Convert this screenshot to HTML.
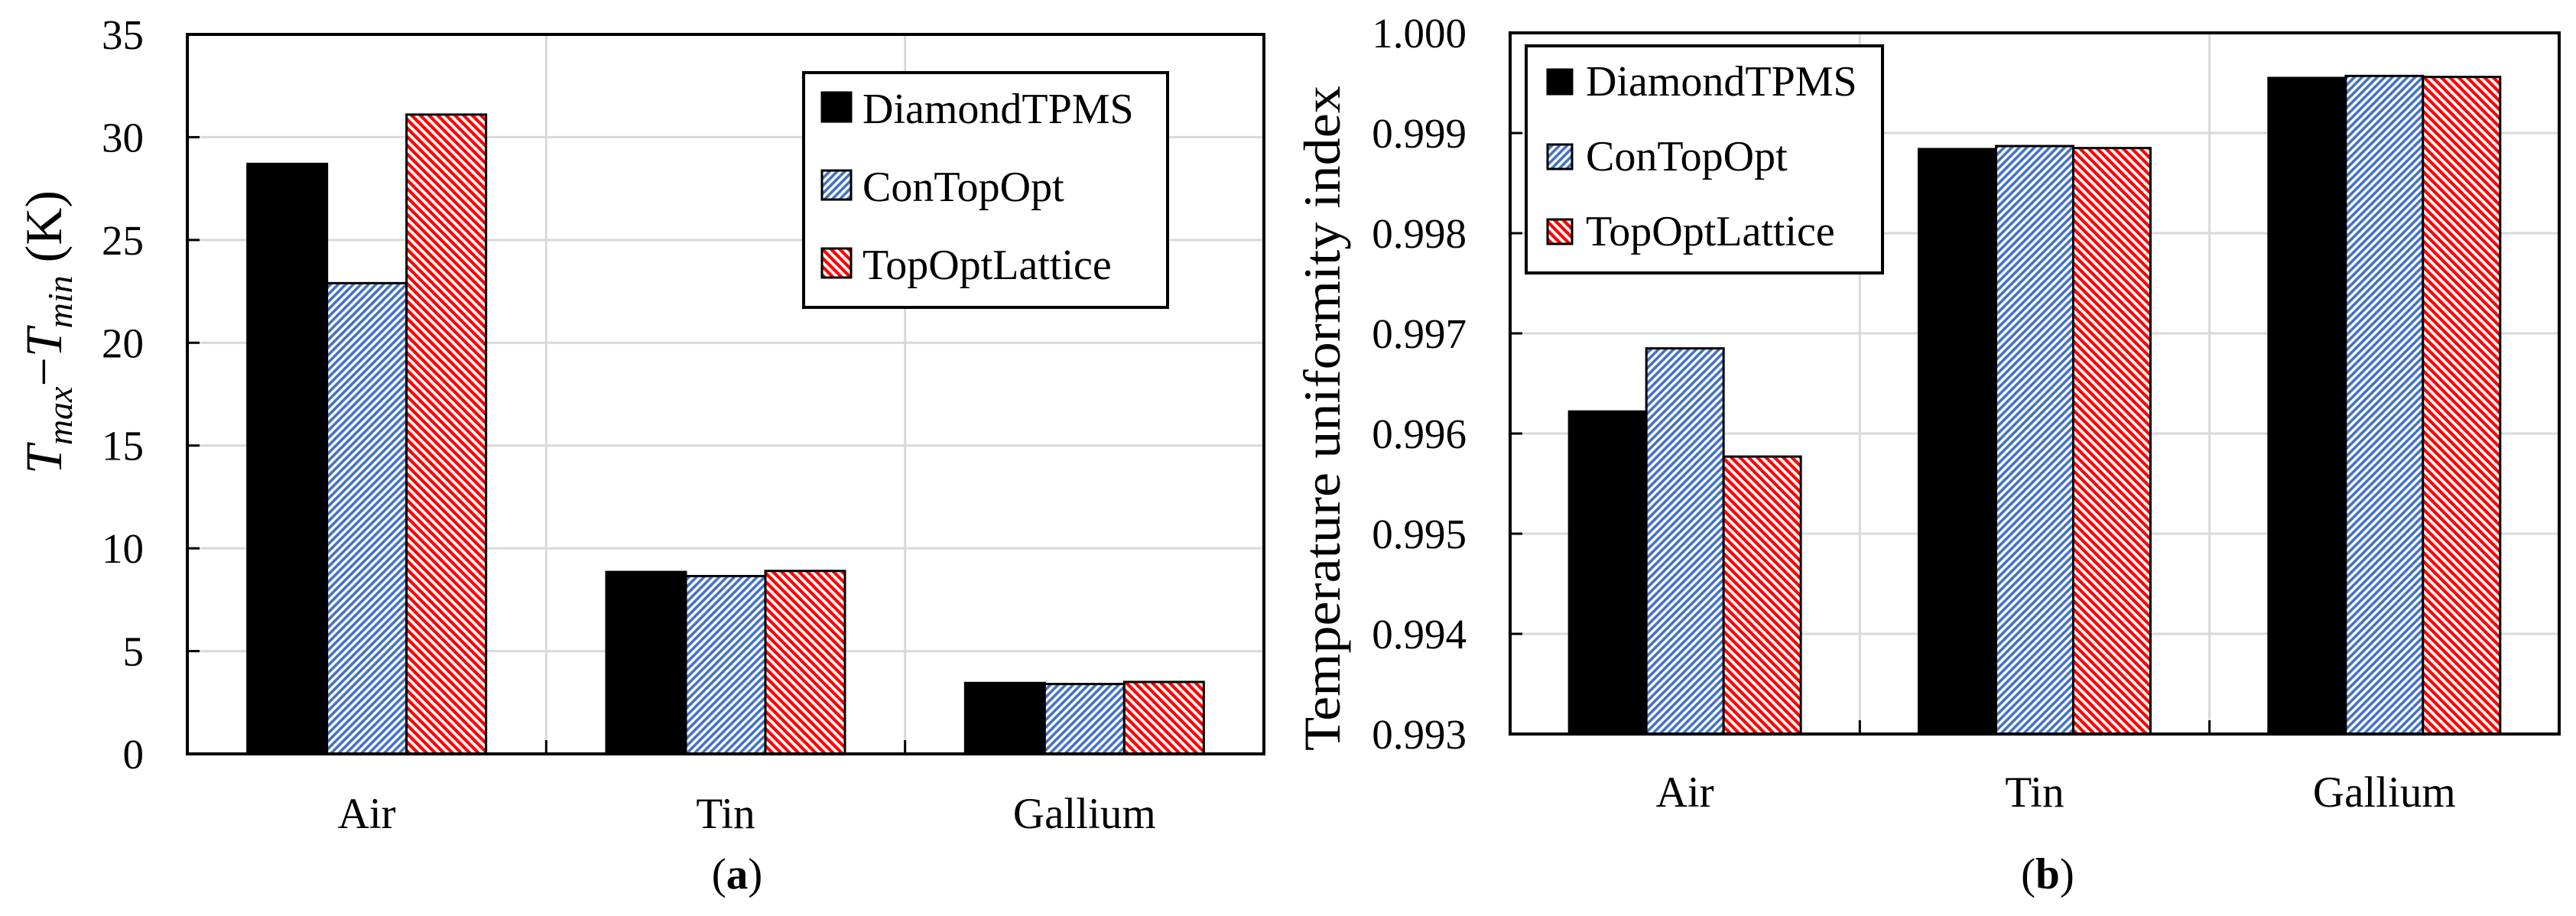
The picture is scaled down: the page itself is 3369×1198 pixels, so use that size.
<!DOCTYPE html>
<html><head><meta charset="utf-8"><title>Charts</title>
<style>
html,body{margin:0;padding:0;background:#fff;}
svg{display:block;}
svg text{font-family:"Liberation Serif","DejaVu Serif",serif;fill:#000;}
</style></head>
<body>
<svg id="fig" width="3369" height="1198" viewBox="0 0 3369 1198" xmlns="http://www.w3.org/2000/svg" font-family="Liberation Serif, serif">
<defs>
<pattern id="hatchBlue" patternUnits="userSpaceOnUse" width="7" height="7" patternTransform="rotate(45)">
<rect width="7" height="7" fill="#fff"/><rect width="3.6" height="7" fill="#4472c4"/>
</pattern>
<pattern id="hatchRed" patternUnits="userSpaceOnUse" width="8" height="8" patternTransform="rotate(-45)">
<rect width="8" height="8" fill="#fff"/><rect width="4.2" height="8" fill="#ff0000"/>
</pattern>
</defs>
<g id="panelA"></g>
<g id="panelB"></g>
<text x="964" y="1162" font-size="57" text-anchor="middle" font-family="Liberation Serif, serif">(<tspan font-weight="bold">a</tspan>)</text>
<text x="2678" y="1162" font-size="57" text-anchor="middle" font-family="Liberation Serif, serif">(<tspan font-weight="bold">b</tspan>)</text>
</svg>
<script>
const categories = ["Air", "Tin", "Gallium"];
const seriesNames = ["DiamondTPMS", "ConTopOpt", "TopOptLattice"];
const deltaTDiamond = [28.7, 8.85, 3.45];
const deltaTCon = [22.9, 8.65, 3.4];
const deltaTLattice = [31.1, 8.9, 3.5];
const ticksA = [0, 5, 10, 15, 20, 25, 30, 35];
const uniDiamond = [0.99622, 0.99884, 0.99955];
const uniCon = [0.99685, 0.99887, 0.99957];
const uniLattice = [0.99577, 0.99885, 0.99956];
const ticksB = [0.993, 0.994, 0.995, 0.996, 0.997, 0.998, 0.999, 1.000];

const NS = "http://www.w3.org/2000/svg";
const FONT = "Liberation Serif, serif";
const fills = ["#000", "url(#hatchBlue)", "url(#hatchRed)"];
function mk(parent, tag, attrs) {
  const e = document.createElementNS(NS, tag);
  for (const k in attrs) e.setAttribute(k, attrs[k]);
  if (tag === "text") e.setAttribute("font-family", FONT);
  parent.appendChild(e);
  return e;
}

function drawPanel(g, cfg) {
  const {L, R, T, B, min, max, ticks, fmt, series, barW, tickRight, catY, leg, title} = cfg;
  const y = v => B - (v - min) / (max - min) * (B - T);
  const catW = (R - L) / categories.length;
  const xc = i => L + catW * (i + 0.5);
  ticks.forEach(t => {
    if (t !== min && t !== max) {
      const gl = mk(g, "line", {x1: L, x2: R, y1: y(t), y2: y(t), stroke: "#d9d9d9", "stroke-width": 3});
      
      
    }
    const tk = mk(g, "line", {x1: L, x2: L + 16, y1: y(t), y2: y(t), stroke: "#000", "stroke-width": 3});
    
    
    const lb = mk(g, "text", {x: tickRight, y: y(t) + 19, "font-size": 55, "text-anchor": "end"});
    lb.textContent = fmt(t);
    
    
  });
  for (let i = 1; i < categories.length; i++) {
    const x = L + catW * i;
    const vg = mk(g, "line", {x1: x, x2: x, y1: T, y2: B, stroke: "#d9d9d9", "stroke-width": 3});
    
    
    const vt = mk(g, "line", {x1: x, x2: x, y1: B - 18, y2: B, stroke: "#000", "stroke-width": 3});
    
    
  }
  categories.forEach((c, i) => {
    series.forEach((s, j) => {
      const x0 = xc(i) - barW * 1.5 + barW * j;
      const top = y(s[i]);
      const r = mk(g, "rect", {x: x0, y: top, width: barW, height: B - top, fill: fills[j], stroke: "#000", "stroke-width": 3});
      
      
    });
    const cl = mk(g, "text", {x: xc(i), y: catY, "font-size": 57, "text-anchor": "middle"});
    cl.textContent = c;
    
    
  });
  const fr = mk(g, "rect", {x: L, y: T, width: R - L, height: B - T, fill: "none", stroke: "#000", "stroke-width": 4});
  
  
  const lg = mk(g, "g", {});
  
  
  mk(lg, "rect", {x: leg.x, y: leg.y, width: leg.w, height: leg.h, fill: "#fff", stroke: "#000", "stroke-width": 4});
  seriesNames.forEach((n, j) => {
    const bl = leg.base[j];
    const sw = mk(lg, "rect", {x: leg.sx, y: bl - leg.sw - 2, width: leg.sw, height: leg.sw, fill: fills[j], stroke: "#000", "stroke-width": 3});
    
    
    const t = mk(lg, "text", {x: leg.tx, y: bl, "font-size": 56});
    t.textContent = n;
    
    
  });
  title(g);
}

drawPanel(document.getElementById("panelA"), {
  L: 245, R: 1653, T: 45, B: 986, min: 0, max: 35, ticks: ticksA, fmt: t => String(t),
  series: [deltaTDiamond, deltaTCon, deltaTLattice], barW: 104, tickRight: 188, catY: 1083,
  leg: {x: 1051, y: 95, w: 476, h: 307, sx: 1075, sw: 38, tx: 1128, base: [161, 263, 365]},
  title: g => {
    const t = mk(g, "text", {transform: "translate(80,620) rotate(-90)", "font-size": 68});
    t.innerHTML = '<tspan font-style="italic">T</tspan><tspan font-style="italic" font-size="46" dy="14">max</tspan><tspan dy="-14">−</tspan><tspan font-style="italic">T</tspan><tspan font-style="italic" font-size="46" dy="14">min</tspan><tspan dy="-14"> (K)</tspan>';
    
    
  }
});

drawPanel(document.getElementById("panelB"), {
  L: 1975, R: 3347, T: 43, B: 960, min: 0.993, max: 1.000, ticks: ticksB, fmt: t => t.toFixed(3),
  series: [uniDiamond, uniCon, uniLattice], barW: 101, tickRight: 1918, catY: 1055,
  leg: {x: 1996, y: 60, w: 466, h: 297, sx: 2024, sw: 32, tx: 2074, base: [125, 223, 321]},
  title: g => {
    const t = mk(g, "text", {transform: "translate(1752,982) rotate(-90)", "font-size": 68, textLength: 870, lengthAdjust: "spacingAndGlyphs"});
    t.textContent = "Temperature uniformity index";
    
    
  }
});
</script>
</body></html>
